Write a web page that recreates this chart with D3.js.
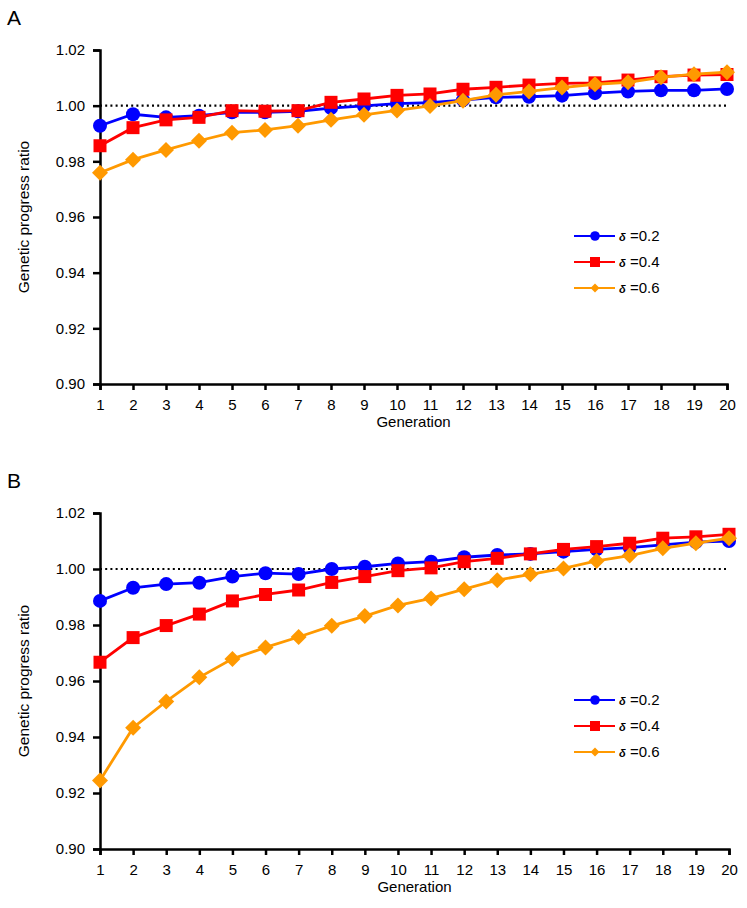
<!DOCTYPE html>
<html>
<head>
<meta charset="utf-8">
<script src="https://cdn.jsdelivr.net/npm/d3@7"></script>
<style>
  html, body { margin: 0; padding: 0; background: #fff; }
  svg { display: block; font-family: "Liberation Sans", Arial, sans-serif; }
</style>
</head>
<body>
<svg id="chart" width="747" height="908"></svg>
<script>
const generations = d3.range(1, 21);
const yTicks = [0.90, 0.92, 0.94, 0.96, 0.98, 1.00, 1.02];
const seriesLabels = ["0.2", "0.4", "0.6"];
const seriesColors = ["#0000FF", "#FF0000", "#FF9900"];
const seriesShapes = ["circle", "square", "diamond"];

const panelA_d02 = [0.9928, 0.9969, 0.9958, 0.9964, 0.9976, 0.9976, 0.9980, 0.9991, 0.9999, 1.0007,
                    1.0011, 1.0020, 1.0030, 1.0032, 1.0036, 1.0045, 1.0051, 1.0055, 1.0055, 1.0060];
const panelA_d04 = [0.9856, 0.9921, 0.9949, 0.9958, 0.9982, 0.9980, 0.9982, 1.0012, 1.0024, 1.0037,
                    1.0042, 1.0059, 1.0066, 1.0074, 1.0080, 1.0082, 1.0092, 1.0104, 1.0110, 1.0112];
const panelA_d06 = [0.9759, 0.9806, 0.9841, 0.9874, 0.9903, 0.9913, 0.9928, 0.9949, 0.9967, 0.9983,
                    0.9999, 1.0018, 1.0039, 1.0051, 1.0065, 1.0077, 1.0084, 1.0102, 1.0113, 1.0120];

const panelB_d02 = [0.9886, 0.9933, 0.9946, 0.9951, 0.9973, 0.9985, 0.9982, 1.0000, 1.0008, 1.0020,
                    1.0026, 1.0042, 1.0050, 1.0054, 1.0062, 1.0070, 1.0076, 1.0086, 1.0096, 1.0100];
const panelB_d04 = [0.9667, 0.9755, 0.9798, 0.9839, 0.9886, 0.9909, 0.9925, 0.9952, 0.9973, 0.9994,
                    1.0004, 1.0026, 1.0038, 1.0054, 1.0070, 1.0080, 1.0092, 1.0110, 1.0115, 1.0124];
const panelB_d06 = [0.9245, 0.9433, 0.9527, 0.9613, 0.9679, 0.9720, 0.9757, 0.9797, 0.9832, 0.9870,
                    0.9895, 0.9928, 0.9960, 0.9981, 1.0002, 1.0029, 1.0048, 1.0074, 1.0092, 1.0110];

const svg = d3.select("#chart");

function shapePath(shape, r) {
  if (shape === "circle") return d3.symbol().type(d3.symbolCircle).size(Math.PI * r * r)();
  if (shape === "square") return `M${-r},${-r}H${r}V${r}H${-r}Z`;
  return `M0,${-r}L${r},0L0,${r}L${-r},0Z`;
}

function drawPanel(cfg, seriesData) {
  const x = d3.scaleLinear().domain([1, 20]).range([cfg.left, cfg.right]);
  const y = d3.scaleLinear().domain([0.90, 1.02]).range([cfg.bottom, cfg.top]);
  const g = svg.append("g");

  g.append("text").attr("x", 7).attr("y", cfg.letterY).attr("font-size", 21)
    .attr("fill", "#000").text(cfg.letter);

  g.append("line")
    .attr("x1", x(1)).attr("x2", x(20))
    .attr("y1", y(1.0)).attr("y2", y(1.0))
    .attr("stroke", "#000").attr("stroke-width", 2.2)
    .attr("stroke-dasharray", "2,3.2");

  const yAxis = d3.axisLeft(y).tickValues(yTicks).tickFormat(d3.format(".2f")).tickSizeOuter(0).tickSize(7).tickPadding(8);
  const ya = g.append("g").attr("transform", `translate(${cfg.left},0)`).call(yAxis);
  ya.select(".domain").attr("stroke", "#000").attr("stroke-width", 2.5);
  ya.selectAll(".tick line").attr("stroke", "#000").attr("stroke-width", 2.5);
  ya.selectAll(".tick text").attr("font-size", 15).attr("fill", "#000").attr("font-family", "Liberation Sans, Arial, sans-serif");

  const xAxis = d3.axisBottom(x).tickValues(generations).tickFormat(d3.format("d")).tickSizeOuter(0).tickSize(6).tickPadding(9);
  const xa = g.append("g").attr("transform", `translate(0,${cfg.bottom})`).call(xAxis);
  xa.select(".domain").attr("stroke", "#000").attr("stroke-width", 2.5);
  xa.selectAll(".tick line").attr("stroke", "#000").attr("stroke-width", 2.5);
  xa.selectAll(".tick text").attr("font-size", 15).attr("fill", "#000").attr("font-family", "Liberation Sans, Arial, sans-serif");

  g.append("text").attr("x", (cfg.left + cfg.right) / 2).attr("y", cfg.bottom + 43)
    .attr("text-anchor", "middle").attr("font-size", 15).attr("fill", "#000").text("Generation");
  g.append("text")
    .attr("transform", `translate(29,${(cfg.top + cfg.bottom) / 2}) rotate(-90)`)
    .attr("text-anchor", "middle").attr("font-size", 15.5).attr("fill", "#000")
    .text("Genetic progress ratio");

  const line = d3.line().x((d, i) => x(generations[i])).y(d => y(d));
  seriesData.forEach((vals, si) => {
    g.append("path").datum(vals).attr("d", line)
      .attr("fill", "none").attr("stroke", seriesColors[si]).attr("stroke-width", 2.8);
    const r = seriesShapes[si] === "circle" ? 7 : seriesShapes[si] === "square" ? 6.5 : 8;
    g.selectAll(null).data(vals).enter().append("path")
      .attr("d", shapePath(seriesShapes[si], r))
      .attr("transform", (d, i) => `translate(${x(generations[i])},${y(d)})`)
      .attr("fill", seriesColors[si]);
  });

  seriesLabels.forEach((lab, si) => {
    const ly = cfg.legendY + si * 26;
    const lg = g.append("g");
    lg.append("line").attr("x1", 574).attr("x2", 615).attr("y1", ly).attr("y2", ly)
      .attr("stroke", seriesColors[si]).attr("stroke-width", 2);
    const lr = seriesShapes[si] === "circle" ? 4.8 : seriesShapes[si] === "square" ? 5 : 4.5;
    lg.append("path").attr("d", shapePath(seriesShapes[si], lr))
      .attr("transform", `translate(595,${ly})`).attr("fill", seriesColors[si]);
    const t = lg.append("text").attr("x", 619).attr("y", ly + 5).attr("fill", "#000");
    t.append("tspan").attr("font-size", 11).attr("font-weight", "bold").attr("font-style", "italic").text("δ");
    t.append("tspan").attr("font-size", 15).text(" =" + lab);
  });
}

drawPanel({letter: "A", letterY: 25, left: 100, right: 727, top: 50, bottom: 384, legendY: 236},
  [panelA_d02, panelA_d04, panelA_d06]);
drawPanel({letter: "B", letterY: 488, left: 100, right: 729, top: 513, bottom: 849, legendY: 700},
  [panelB_d02, panelB_d04, panelB_d06]);
</script>
</body>
</html>
